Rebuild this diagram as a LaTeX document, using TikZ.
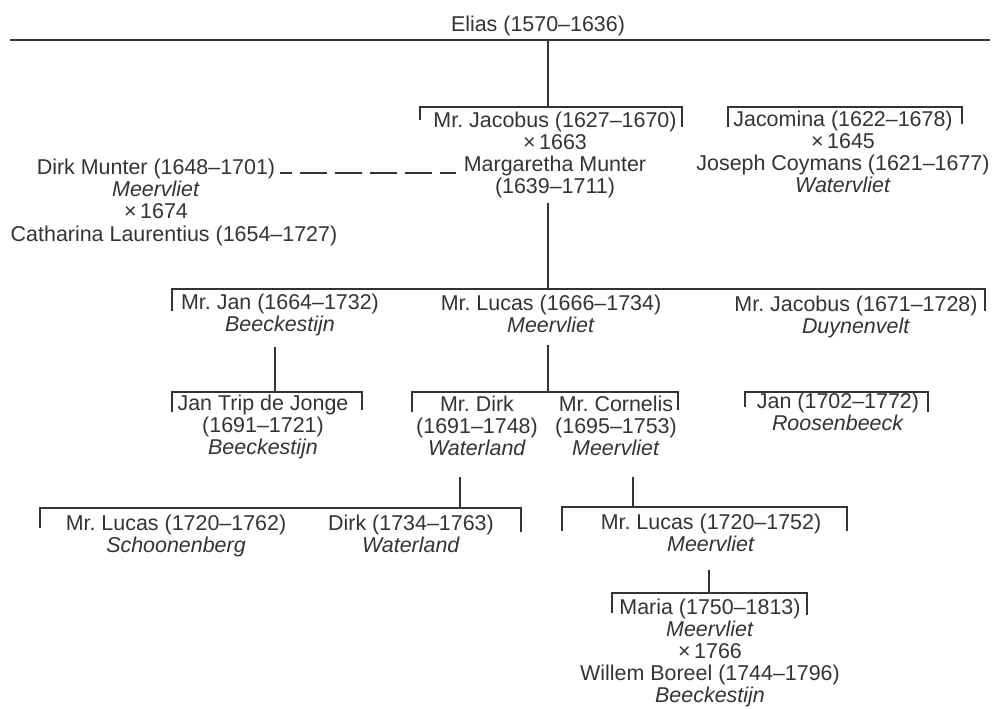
\documentclass[tikz,border=0pt]{standalone}
\usepackage{fontspec}
\setmainfont{Liberation Sans}
\definecolor{ink}{HTML}{333333}

\begin{document}
\begin{tikzpicture}[
    x=0.02cm, y=-0.02cm,
    person/.style={anchor=north, align=center, inner sep=0pt, text=ink, font=\fontsize{12.2}{12.5}\selectfont},
    link/.style={draw=ink, line width=0.8pt},
    bar/.style={draw=ink, line width=0.8pt},
    stem/.style={draw=ink, line width=1.1pt},
    wed/.style={draw=ink, line width=0.8pt, dash pattern=on 0.54cm off 0.16cm, dash phase=0.3cm},
  ]
    \useasboundingbox (0,0) rectangle (995,709);

    % first generation
    \node[person] (elias) at (538,16) {Elias (1570–1636)};
    \coordinate (lineL) at (10,40);
    \coordinate (lineR) at (990,40);
    \draw[stem] (lineL) -- (lineR);

    % second generation
    \node[person] (jacobus) at (555,112) {Mr.~Jacobus (1627–1670)\\×\,1663\\Margaretha Munter\\(1639–1711)};
    \node[person] (jacomina) at (843,111) {Jacomina (1622–1678)\\×\,1645\\Joseph Coymans (1621–1677)\\\textit{Watervliet}};
    \node[person] (munter) at (156,159) {Dirk Munter (1648–1701)\\\textit{Meervliet}\\×\,1674};
    \node[person] (laurentius) at (174,226) {Catharina Laurentius (1654–1727)};

    \coordinate (jacL) at (420,107);
    \coordinate (jacR) at (682,107);
    \coordinate (jcmL) at (728,107);
    \coordinate (jcmR) at (962,107);
    \coordinate (eliasDrop) at (548,40);
    \draw[link] (eliasDrop) -- (eliasDrop |- jacL);
    \draw[bar] (jacL) ++(0,13) -- (jacL) -- (jacR) -- ++(0,20);
    \draw[bar] (jcmL) ++(0,20) -- (jcmL) -- (jcmR) -- ++(0,17);

    \coordinate (wedL) at (280,173);
    \coordinate (wedR) at (456,173);
    \draw[wed] (wedL) -- (wedR);

    % third generation
    \node[person] (jan) at (280,294) {Mr.~Jan (1664–1732)\\\textit{Beeckestijn}};
    \node[person] (lucas) at (551,295) {Mr.~Lucas (1666–1734)\\\textit{Meervliet}};
    \node[person] (jacobusD) at (856,296) {Mr.~Jacobus (1671–1728)\\\textit{Duynenvelt}};

    \coordinate (sonsL) at (172,289);
    \coordinate (sonsR) at (985,289);
    \coordinate (jacDrop) at (548,203);
    \draw[link] (jacDrop) -- (jacDrop |- sonsL);
    \draw[bar] (sonsL) ++(0,22) -- (sonsL) -- (sonsR) -- ++(0,22);

    % fourth generation
    \node[person] (janTrip) at (263,395) {Jan Trip de Jonge\\(1691–1721)\\\textit{Beeckestijn}};
    \node[person] (dirk) at (477,396) {Mr.~Dirk\\(1691–1748)\\\textit{Waterland}};
    \node[person] (cornelis) at (616,396) {Mr.~Cornelis\\(1695–1753)\\\textit{Meervliet}};
    \node[person] (janR) at (838,393) {Jan (1702–1772)\\\textit{Roosenbeeck}};

    \coordinate (tripL) at (172,392);
    \coordinate (tripR) at (362,392);
    \coordinate (dcL) at (412,392);
    \coordinate (dcR) at (678,392);
    \coordinate (roosL) at (745,392);
    \coordinate (roosR) at (928,392);
    \coordinate (janDrop) at (275,347);
    \coordinate (lucasDrop) at (548,345);
    \draw[link] (janDrop) -- (janDrop |- tripL);
    \draw[link] (lucasDrop) -- (lucasDrop |- dcL);
    \draw[bar] (tripL) ++(0,20) -- (tripL) -- (tripR) -- ++(0,18);
    \draw[bar] (dcL) ++(0,20) -- (dcL) -- (dcR) -- ++(0,18);
    \draw[bar] (roosL) ++(0,15) -- (roosL) -- (roosR) -- ++(0,20);

    % fifth generation
    \node[person] (lucasS) at (176,515) {Mr.~Lucas (1720–1762)\\\textit{Schoonenberg}};
    \node[person] (dirkW) at (411,515) {Dirk (1734–1763)\\\textit{Waterland}};
    \node[person] (lucasM) at (711,514) {Mr.~Lucas (1720–1752)\\\textit{Meervliet}};

    \coordinate (waterL) at (40,508);
    \coordinate (waterR) at (521,508);
    \coordinate (meerL) at (562,507);
    \coordinate (meerR) at (847,507);
    \coordinate (dirkDrop) at (460,477);
    \coordinate (cornDrop) at (633,477);
    \draw[link] (dirkDrop) -- (dirkDrop |- waterL);
    \draw[link] (cornDrop) -- (cornDrop |- meerL);
    \draw[bar] (waterL) ++(0,20) -- (waterL) -- (waterR) -- ++(0,24);
    \draw[bar] (meerL) ++(0,24) -- (meerL) -- (meerR) -- ++(0,24);

    % sixth generation
    \node[person] (maria) at (710,599) {Maria (1750–1813)\\\textit{Meervliet}\\×\,1766\\Willem Boreel (1744–1796)\\\textit{Beeckestijn}};

    \coordinate (mariaL) at (612,593);
    \coordinate (mariaR) at (807,593);
    \coordinate (meerDrop) at (709,570);
    \draw[link] (meerDrop) -- (meerDrop |- mariaL);
    \draw[bar] (mariaL) ++(0,20) -- (mariaL) -- (mariaR) -- ++(0,22);
  \end{tikzpicture}
\end{document}
